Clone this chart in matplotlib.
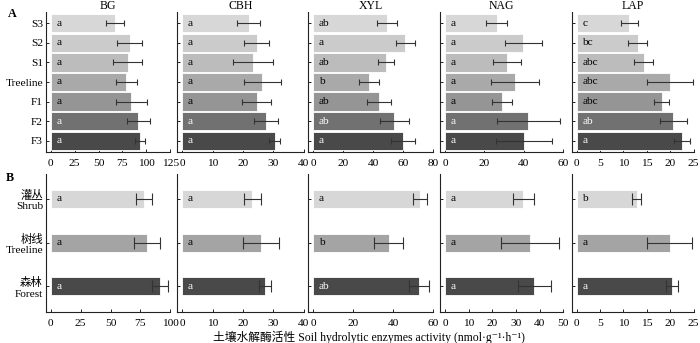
import matplotlib
matplotlib.use("Agg")
import matplotlib.pyplot as plt
import numpy as np

plt.rcParams['font.family'] = ['Liberation Serif', 'Noto Sans CJK SC', 'DejaVu Serif']
plt.rcParams['axes.unicode_minus'] = False

# ---- data -------------------------------------------------------------
enzymes = ["BG", "CBH", "XYL", "NAG", "LAP"]

# Panel A: seven sites along the elevation gradient
sites_a = ["S3", "S2", "S1", "Treeline", "F1", "F2", "F3"]
colors_a = ["#d7d7d7", "#cbcbcb", "#bcbcbc", "#a9a9a9", "#959595", "#717171", "#494949"]

bg_a = [67.5, 82.4, 80.6, 79.2, 84.4, 91.7, 93.4]
bg_a_se = [9.3, 12.6, 15.0, 11.4, 16.6, 12.3, 5.2]
cbh_a = [21.9, 24.5, 23.4, 26.4, 24.5, 27.7, 30.4]
cbh_a_se = [3.8, 4.0, 6.6, 6.0, 4.8, 3.9, 1.9]
xyl_a = [49.2, 61.2, 48.5, 37.1, 43.6, 54.1, 60.1]
xyl_a_se = [6.6, 6.3, 5.2, 6.8, 8.1, 9.7, 8.0]
nag_a = [26.2, 39.6, 31.6, 35.4, 28.9, 42.3, 40.1]
nag_a_se = [5.5, 9.4, 7.0, 12.2, 5.1, 16.1, 14.0]
lap_a = [11.2, 13.0, 14.3, 20.0, 18.2, 20.6, 22.5]
lap_a_se = [1.8, 2.1, 2.0, 4.9, 1.6, 2.9, 1.65]

letters_a = {
    "BG": ["a"] * 7,
    "CBH": ["a"] * 7,
    "XYL": ["ab", "a", "ab", "b", "ab", "ab", "a"],
    "NAG": ["a"] * 7,
    "LAP": ["c", "bc", "abc", "abc", "abc", "ab", "a"],
}
xmax_a = {"BG": 125, "CBH": 40, "XYL": 80, "NAG": 60, "LAP": 25}
xstep_a = {"BG": 25, "CBH": 10, "XYL": 20, "NAG": 20, "LAP": 5}

# Panel B: three vegetation zones
zones_b = ["灌丛\nShrub", "树线\nTreeline", "森林\nForest"]
colors_b = ["#d7d7d7", "#a4a4a4", "#494949"]

bg_b = [78.0, 80.8, 91.3]
bg_b_se = [7.0, 10.8, 6.8]
cbh_b = [23.0, 26.0, 27.3]
cbh_b_se = [2.8, 5.9, 2.1]
xyl_b = [53.3, 37.7, 52.8]
xyl_b_se = [3.4, 7.3, 4.9]
nag_b = [33.1, 35.8, 37.7]
nag_b_se = [4.4, 12.2, 7.0]
lap_b = [12.8, 19.9, 20.4]
lap_b_se = [0.95, 4.8, 1.3]

letters_b = {
    "BG": ["a", "a", "a"],
    "CBH": ["a", "a", "a"],
    "XYL": ["a", "b", "ab"],
    "NAG": ["a", "a", "a"],
    "LAP": ["b", "a", "a"],
}
xmax_b = {"BG": 100, "CBH": 40, "XYL": 60, "NAG": 50, "LAP": 25}
xstep_b = {"BG": 25, "CBH": 10, "XYL": 20, "NAG": 10, "LAP": 5}

means_a = {"BG": bg_a, "CBH": cbh_a, "XYL": xyl_a, "NAG": nag_a, "LAP": lap_a}
ses_a = {"BG": bg_a_se, "CBH": cbh_a_se, "XYL": xyl_a_se, "NAG": nag_a_se, "LAP": lap_a_se}
means_b = {"BG": bg_b, "CBH": cbh_b, "XYL": xyl_b, "NAG": nag_b, "LAP": lap_b}
ses_b = {"BG": bg_b_se, "CBH": cbh_b_se, "XYL": xyl_b_se, "NAG": nag_b_se, "LAP": lap_b_se}

# ---- layout -----------------------------------------------------------
W, H = 700, 343
fig = plt.figure(figsize=(W / 100, H / 100), dpi=100)

panel_px = [(45.7, 170.3), (177.0, 303.7), (308.3, 433.3), (440.0, 563.3), (571.7, 693.7)]
rowA = (12.3, 151.7)
rowB = (173.5, 311.7)

FS = 8.2
axis_col = "#222222"


def make_ax(px, row):
    x0, x1 = px
    y0, y1 = row
    return fig.add_axes([x0 / W, 1 - y1 / H, (x1 - x0) / W, (y1 - y0) / H])


def luminance(hexcol):
    r, g, b = matplotlib.colors.to_rgb(hexcol)
    return 0.299 * r + 0.587 * g + 0.114 * b


def draw_panel(ax, labels, vals, se, letters, colors, xmax, step, height, pad, capsize, show_labels):
    n = len(vals)
    y = np.arange(n)
    ax.barh(y, vals, height=height, color=colors, edgecolor="white", linewidth=0.6, zorder=2)
    ax.errorbar(vals, y, xerr=se, fmt="none", ecolor="#333333", elinewidth=0.8,
                capsize=capsize, capthick=0.8, zorder=3)
    for yi, lab, c in zip(y, letters, colors):
        tc = "white" if luminance(c) < 0.5 else "black"
        ax.annotate(lab, xy=(0, yi), xytext=(4.0, 0), textcoords="offset points",
                    ha="left", va="center", fontsize=FS, color=tc, zorder=4)
    ax.set_xlim(-0.042 * xmax, xmax)
    ax.set_ylim(n - 1 + pad, -pad)
    ax.set_xticks(np.arange(0, xmax + 0.01, step))
    ax.set_yticks(y)
    if show_labels:
        ax.set_yticklabels(labels, fontsize=FS, ha="right", multialignment="right")
    else:
        ax.set_yticklabels([])
    for s in ("top", "right"):
        ax.spines[s].set_visible(False)
    for s in ("left", "bottom"):
        ax.spines[s].set_color(axis_col)
        ax.spines[s].set_linewidth(0.8)
    ax.tick_params(axis="both", direction="in", length=2.5, width=0.7, color=axis_col,
                   labelsize=FS, pad=2)
    ax.tick_params(axis="x", pad=5)


for i, e in enumerate(enzymes):
    axA = make_ax(panel_px[i], rowA)
    draw_panel(axA, sites_a, means_a[e], ses_a[e], letters_a[e], colors_a,
               xmax_a[e], xstep_a[e], 0.93, 0.56, 2.5, i == 0)
    axA.set_title(e, fontsize=FS + 0.3, pad=2.5)

    axB = make_ax(panel_px[i], rowB)
    draw_panel(axB, zones_b, means_b[e], ses_b[e], letters_b[e], colors_b,
               xmax_b[e], xstep_b[e], 0.41, 0.58, 4.5, i == 0)

fig.text(12 / W, 1 - 14 / H, "A", fontsize=FS + 0.5, fontweight="bold", ha="center", va="center")
fig.text(10 / W, 1 - 178 / H, "B", fontsize=FS + 0.5, fontweight="bold", ha="center", va="center")
fig.text(369 / W, 1 - 337 / H,
         "土壤水解酶活性 Soil hydrolytic enzymes activity (nmol·g⁻¹·h⁻¹)",
         fontsize=FS + 0.3, ha="center", va="center")

fig.savefig("out.png", dpi=100)
